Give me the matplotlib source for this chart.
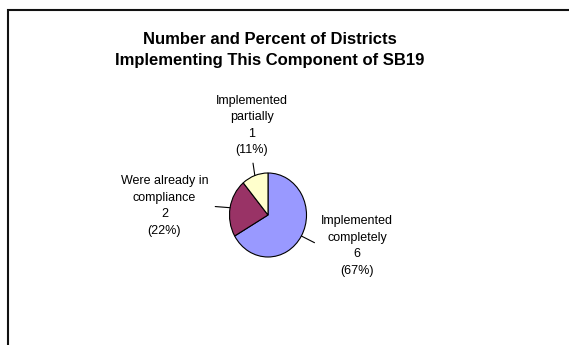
import matplotlib.pyplot as plt
import matplotlib.patches as mpatches
import numpy as np

W, H = 569, 345

categories = ['Implemented\ncompletely', 'Were already in\ncompliance', 'Implemented\npartially']
counts = [6, 2, 1]
colors = ['#9999FF', '#993366', '#FFFFCC']
title = 'Number and Percent of Districts\nImplementing This Component of SB19'

plt.rcParams['font.family'] = ['Liberation Sans', 'DejaVu Sans']

fig = plt.figure(figsize=(W / 100, H / 100), dpi=100)

# рамка области диаграммы (уходит за правый и нижний край)
fig.patches.append(mpatches.Rectangle((8, -10), W + 20, H + 10 - 9.5, transform=None,
                                      fill=False, edgecolor='#111111', linewidth=1.5))

fig.text(270 / W, 1 - 50 / H, title, ha='center', va='center', fontsize=12,
         fontweight='bold', linespacing=1.5)

# круг чуть вытянут по вертикали
cx, cy, rx, ry = 268, 215, 38.5, 42
ax = fig.add_axes([(cx - rx) / W, 1 - (cy + ry) / H, 2 * rx / W, 2 * ry / H])
wedges, _ = ax.pie(counts, colors=colors, startangle=90, counterclock=False,
                   radius=1, wedgeprops=dict(edgecolor='black', linewidth=0.8))
ax.set_xlim(-1, 1)
ax.set_ylim(-1, 1)
ax.set_aspect('auto')
ax.axis('off')

total = sum(counts)
# центры подписей (в пикселях от левого верхнего угла) и точка крепления выноски
label_pos = [(357, 246), (164.5, 206), (252, 125.5)]
relpos = [(0, 0.5), (1, 0.5), (0.5, 0)]
for w, cat, n, (px, py), rp in zip(wedges, categories, counts, label_pos, relpos):
    mid = np.deg2rad((w.theta1 + w.theta2) / 2)
    txt = f'{cat}\n{n}\n({n / total:.0%})'
    ax.annotate(txt, xy=(np.cos(mid), np.sin(mid)), xycoords='data',
                xytext=(px, H - py), textcoords='figure pixels',
                ha='center', va='center', fontsize=9, linespacing=1.5,
                annotation_clip=False,
                arrowprops=dict(arrowstyle='-', color='black', lw=0.8,
                                relpos=rp, shrinkA=3, shrinkB=0))

fig.savefig('out.png', dpi=100)
